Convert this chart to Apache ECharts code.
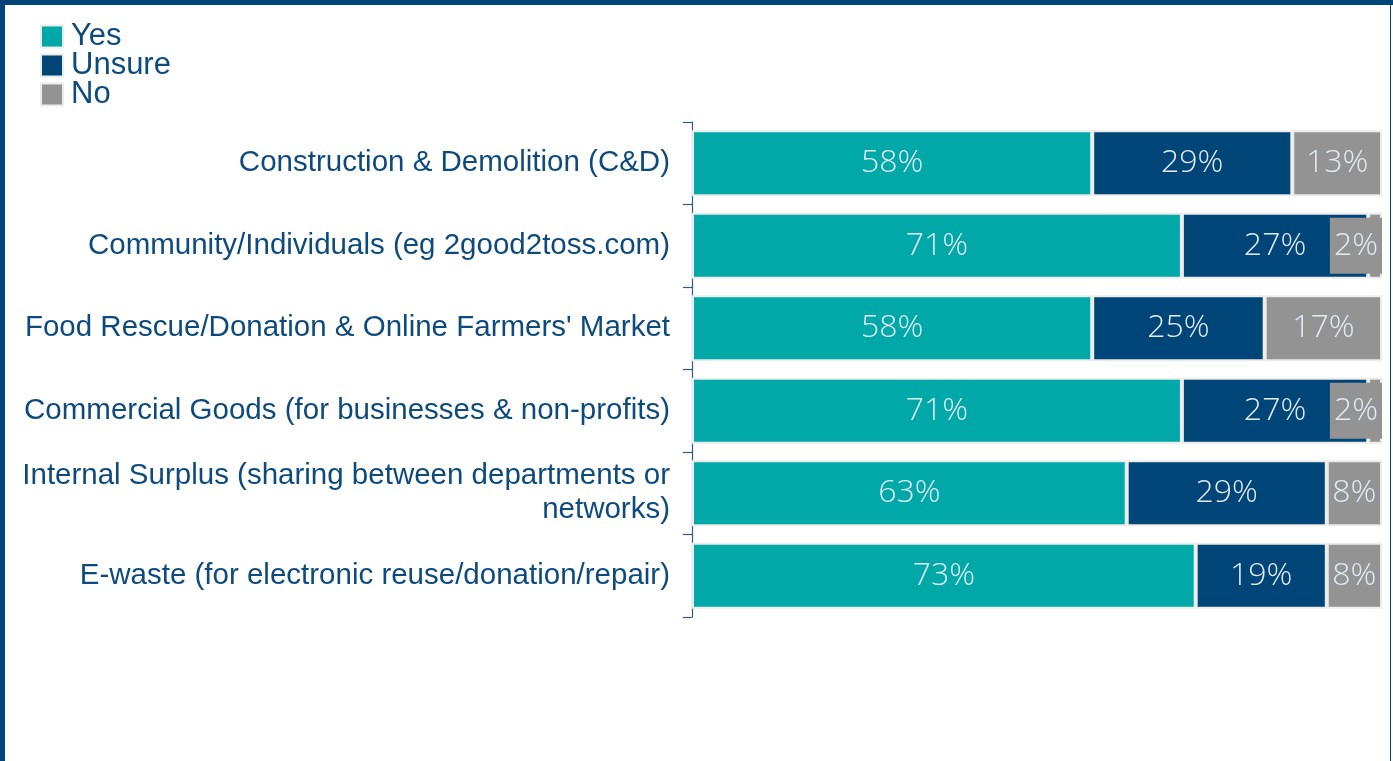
<!DOCTYPE html>
<html>
<head>
<meta charset="utf-8">
<script src="https://cdn.jsdelivr.net/npm/echarts@6/dist/echarts.min.js"></script>
<style>
  html, body { margin: 0; padding: 0; background: #fff; }
  #chart { position: absolute; left: 0; top: 0; width: 1393px; height: 761px; }
  .frame { position: absolute; background: #004577; }
</style>
</head>
<body>
<div id="chart"></div>
<div class="frame" style="left:0;top:0;width:1393px;height:5px"></div>
<div class="frame" style="left:0;top:0;width:5px;height:761px"></div>
<div class="frame" style="left:1390px;top:0;width:1px;height:761px"></div>
<script>
  // survey categories, top to bottom
  var categories = [
    'Construction & Demolition (C&D)',
    'Community/Individuals (eg 2good2toss.com)',
    "Food Rescue/Donation & Online Farmers' Market",
    'Commercial Goods (for businesses & non-profits)',
    'Internal Surplus (sharing between departments or\nnetworks)',
    'E-waste (for electronic reuse/donation/repair)'
  ];
  var yesVals = [58, 71, 58, 71, 63, 73];
  var unsureVals = [29, 27, 25, 27, 29, 19];
  var noVals = [13, 2, 17, 2, 8, 8];

  var chart = echarts.init(document.getElementById('chart'));

  var baseLabel = {
    show: true,
    position: 'inside',
    color: '#e2ebf5',
    fontSize: 32,
    fontFamily: 'Open Sans, Liberation Sans, sans-serif',
    fontWeight: 300,
    formatter: '{c}%'
  };

  function makeSeries(name, vals, color) {
    return {
      name: name,
      type: 'bar',
      stack: 'total',
      barWidth: '80%',
      data: vals,
      itemStyle: { color: color, borderColor: '#ececec', borderWidth: 2 },
      label: baseLabel
    };
  }

  // small "No" slices get a grey tag label that sits over the bar end
  var noData = noVals.map(function (v) {
    if (v < 5) {
      return {
        value: v,
        label: {
          position: 'insideRight',
          distance: 0,
          backgroundColor: '#939393',
          padding: [12, 4, 12, 4]
        }
      };
    }
    return v;
  });

  chart.setOption({
    animation: false,
    textStyle: { fontFamily: 'Liberation Sans, Arial, sans-serif' },
    legend: {
      orient: 'vertical',
      left: 35,
      top: 16,
      itemWidth: 22,
      itemHeight: 22,
      itemGap: -2,
      icon: 'rect',
      data: ['Yes', 'Unsure', 'No'],
      textStyle: { fontSize: 31, color: '#0d4a7d', padding: [0, 0, 0, 3] }
    },
    grid: { left: 692, right: 11, top: 122, bottom: 144 },
    xAxis: {
      type: 'value',
      min: 0,
      max: 100,
      show: false
    },
    yAxis: {
      type: 'category',
      inverse: true,
      data: categories,
      axisLine: { show: true, lineStyle: { color: '#2e5a85', width: 1.2 } },
      axisTick: { show: true, length: 9, lineStyle: { color: '#2e5a85', width: 1.2 } },
      axisLabel: {
        margin: 22,
        fontSize: 29.5,
        color: '#0d4a7d',
        lineHeight: 34,
        align: 'right'
      }
    },
    series: [
      makeSeries('Yes', yesVals, '#00a8a8'),
      makeSeries('Unsure', unsureVals, '#004577'),
      makeSeries('No', noData, '#939393')
    ]
  });
</script>
</body>
</html>
